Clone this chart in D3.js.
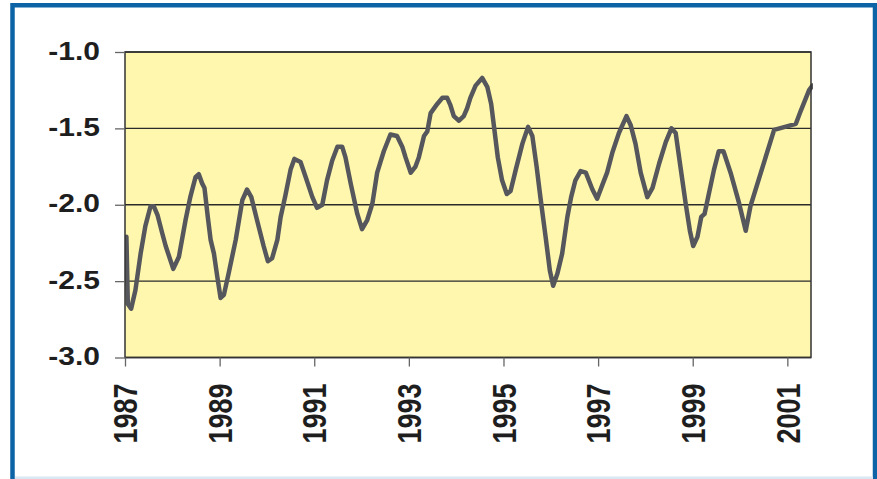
<!DOCTYPE html>
<html>
<head>
<meta charset="utf-8">
<script src="https://cdn.jsdelivr.net/npm/d3@7"></script>
<style>
  body { margin: 0; background: #fff; }
  svg { display: block; }
</style>
</head>
<body>
<svg id="chart" width="877" height="479"></svg>
<script>
// decimal years
const dates = [
  1987.03, 1987.06, 1987.13, 1987.22, 1987.33, 1987.43, 1987.54, 1987.61, 1987.69, 1987.79,
  1987.86, 1988.02, 1988.14, 1988.28, 1988.38, 1988.49, 1988.56, 1988.63, 1988.68, 1988.75,
  1988.81, 1988.88, 1988.95, 1989.02, 1989.09, 1989.19, 1989.34, 1989.48, 1989.58, 1989.67,
  1989.79, 1989.93, 1990.02, 1990.11, 1990.22, 1990.29, 1990.39, 1990.50, 1990.58, 1990.71,
  1990.82, 1990.96, 1991.06, 1991.17, 1991.27, 1991.38, 1991.49, 1991.59, 1991.66, 1991.77,
  1991.91, 1992.01, 1992.12, 1992.23, 1992.33, 1992.47, 1992.61, 1992.75, 1992.86, 1992.93,
  1993.04, 1993.14, 1993.21, 1993.32, 1993.39, 1993.46, 1993.60, 1993.71, 1993.81, 1993.88,
  1993.95, 1994.06, 1994.16, 1994.23, 1994.30, 1994.41, 1994.55, 1994.66, 1994.74, 1994.80,
  1994.88, 1994.97, 1995.07, 1995.15, 1995.26, 1995.40, 1995.52, 1995.61, 1995.70, 1995.78,
  1995.89, 1995.98, 1996.05, 1996.14, 1996.24, 1996.35, 1996.43, 1996.52, 1996.63, 1996.74,
  1996.88, 1996.98, 1997.09, 1997.19, 1997.30, 1997.44, 1997.60, 1997.69, 1997.79, 1997.90,
  1998.04, 1998.15, 1998.29, 1998.43, 1998.55, 1998.64, 1998.74, 1998.85, 1998.94, 1999.01,
  1999.10, 1999.18, 1999.25, 1999.34, 1999.45, 1999.55, 1999.65, 1999.80, 1999.98, 2000.12,
  2000.22, 2000.44, 2000.72, 2001.18, 2001.29, 2001.46, 2001.53
];
const values = [
  -2.21, -2.65, -2.68, -2.56, -2.32, -2.14, -2.01, -2.01, -2.07, -2.19,
  -2.27, -2.42, -2.34, -2.10, -1.95, -1.82, -1.80, -1.86, -1.89, -2.08,
  -2.23, -2.32, -2.47, -2.61, -2.59, -2.45, -2.23, -1.97, -1.90, -1.95,
  -2.10, -2.27, -2.37, -2.35, -2.23, -2.08, -1.94, -1.77, -1.70, -1.72,
  -1.82, -1.95, -2.02, -2.00, -1.84, -1.71, -1.62, -1.62, -1.69, -1.86,
  -2.06, -2.16, -2.10, -1.99, -1.79, -1.65, -1.54, -1.55, -1.62, -1.69,
  -1.79, -1.75, -1.69, -1.55, -1.52, -1.40, -1.34, -1.30, -1.30, -1.35,
  -1.42, -1.45, -1.42, -1.37, -1.30, -1.22, -1.17, -1.23, -1.34, -1.49,
  -1.69, -1.84, -1.93, -1.91, -1.77, -1.60, -1.49, -1.55, -1.75, -1.95,
  -2.21, -2.43, -2.53, -2.45, -2.32, -2.08, -1.95, -1.84, -1.78, -1.79,
  -1.90, -1.96, -1.87, -1.79, -1.66, -1.53, -1.42, -1.48, -1.60, -1.79,
  -1.95, -1.89, -1.73, -1.59, -1.50, -1.53, -1.75, -1.99, -2.17, -2.27,
  -2.21, -2.08, -2.06, -1.93, -1.77, -1.65, -1.65, -1.79, -1.99, -2.17,
  -2.01, -1.79, -1.51, -1.47, -1.38, -1.25, -1.22
];

const yTicks = [-3.0, -2.5, -2.0, -1.5, -1.0];
const yTickLabels = ["-3.0", "-2.5", "-2.0", "-1.5", "-1.0"];
const xTicks = [1987, 1989, 1991, 1993, 1995, 1997, 1999, 2001];
const xTickLabels = ["1987", "1989", "1991", "1993", "1995", "1997", "1999", "2001"];

const plot = { left: 125, right: 811, top: 52, bottom: 357.5 };
const STRETCH = 1.2; // the picture is wider than the font

const svg = d3.select("#chart");

const x = d3.scaleLinear().domain([1987, 2001.5]).range([plot.left, plot.right]);
const y = d3.scaleLinear().domain([-3, -1]).range([plot.bottom, plot.top]);

// blue frame
svg.append("rect")
  .attr("x", 12.5).attr("y", 5.25)
  .attr("width", 862.5).attr("height", 520)
  .attr("fill", "none")
  .attr("stroke", "#0c64a6")
  .attr("stroke-width", 4.5);
svg.append("rect")
  .attr("x", 15).attr("y", 476.5)
  .attr("width", 858).attr("height", 3)
  .attr("fill", "#d9e8f3");

// plot area
svg.append("rect")
  .attr("x", plot.left).attr("y", plot.top)
  .attr("width", plot.right - plot.left).attr("height", plot.bottom - plot.top)
  .attr("fill", "#fff7ae");

// gridlines
svg.append("g")
  .selectAll("line")
  .data(yTicks)
  .join("line")
  .attr("x1", plot.left).attr("x2", plot.right)
  .attr("y1", (d) => y(d)).attr("y2", (d) => y(d))
  .attr("stroke", "#2a2a2a")
  .attr("stroke-width", 1.3);

// the series
const line = d3.line()
  .x((d, i) => x(dates[i]))
  .y((d) => y(d));

svg.append("clipPath").attr("id", "clip")
  .append("rect")
  .attr("x", plot.left).attr("y", plot.top - 10)
  .attr("width", plot.right - plot.left + 2).attr("height", plot.bottom - plot.top + 20);

svg.append("path")
  .datum(values)
  .attr("clip-path", "url(#clip)")
  .attr("d", line)
  .attr("fill", "none")
  .attr("stroke", "#55575c")
  .attr("stroke-width", 4.5)
  .attr("stroke-linejoin", "round")
  .attr("stroke-linecap", "round");

// plot border
svg.append("rect")
  .attr("x", plot.left).attr("y", plot.top)
  .attr("width", plot.right - plot.left).attr("height", plot.bottom - plot.top)
  .attr("fill", "none")
  .attr("stroke", "#333")
  .attr("stroke-width", 1.5);

// y axis
const yAxis = svg.append("g")
  .attr("transform", `translate(${plot.left},0)`)
  .call(
    d3.axisLeft(y)
      .tickValues(yTicks)
      .tickSize(10)
      .tickFormat((d, i) => yTickLabels[i])
  );
yAxis.select(".domain").remove();
yAxis.selectAll(".tick line").attr("stroke", "#666").attr("stroke-width", 1.3);
yAxis.selectAll(".tick text")
  .attr("x", null).attr("dy", null)
  .attr("transform", `translate(-25,7) scale(${STRETCH},1)`)
  .attr("fill", "#1e1e1e")
  .style("font-family", "'Liberation Sans', Arial, sans-serif")
  .style("font-weight", "bold")
  .style("font-size", "25px");

// x axis
const xAxis = svg.append("g")
  .attr("transform", `translate(0,${plot.bottom})`)
  .call(
    d3.axisBottom(x)
      .tickValues(xTicks)
      .tickSize(9)
      .tickFormat((d, i) => xTickLabels[i])
  );
xAxis.select(".domain").remove();
xAxis.selectAll(".tick line").attr("stroke", "#666").attr("stroke-width", 1.3);
xAxis.selectAll(".tick text")
  .attr("x", null).attr("y", null).attr("dy", "0.36em")
  .attr("text-anchor", "end")
  .attr("transform", `translate(0,26) scale(${STRETCH},1) rotate(-90)`)
  .attr("fill", "#1e1e1e")
  .style("font-family", "'Liberation Sans', Arial, sans-serif")
  .style("font-weight", "bold")
  .style("font-size", "27px");
</script>
</body>
</html>
